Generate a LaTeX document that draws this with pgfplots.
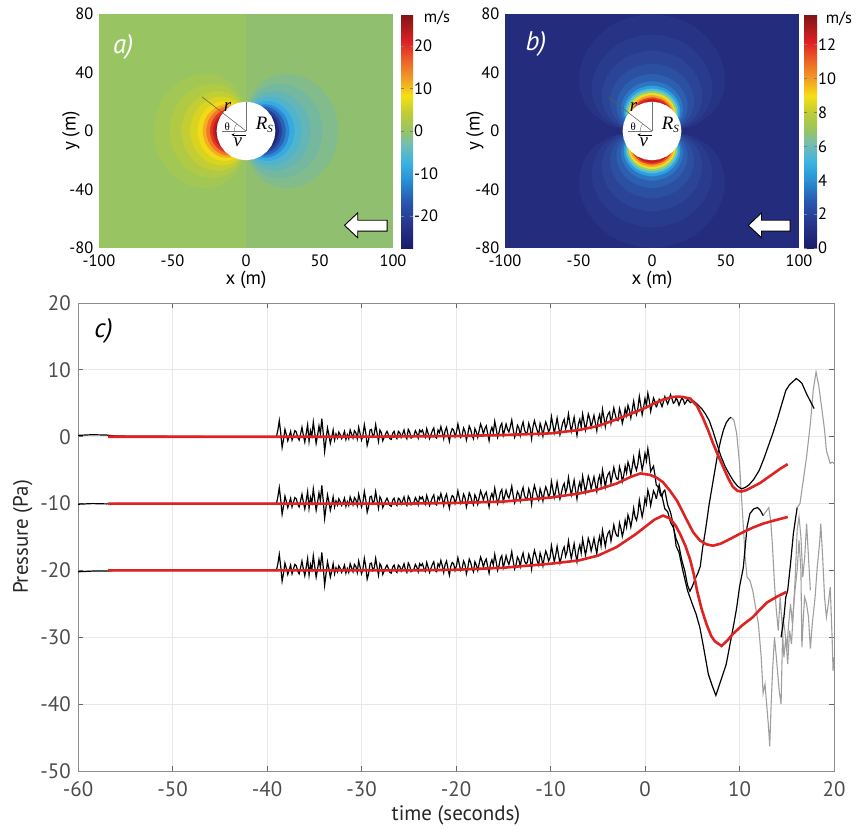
\documentclass[border=0pt]{standalone}
\usepackage{fontspec}
\setmainfont{PT Sans}
\newfontfamily\ser{Liberation Serif}
\usepackage{pgfplots}
\usepackage{pgfplotstable}
\pgfplotsset{compat=1.18}
\usetikzlibrary{arrows.meta}
\pgfplotsset{/pgf/number format/assume math mode=true}

\newcommand\fA{\fontsize{16.5}{18}\selectfont}
\newcommand\fL{\fontsize{19}{21}\selectfont}
\newcommand\fC{\fontsize{21}{24}\selectfont}

\definecolor{redc}{RGB}{222,35,35}
% panel a levels (west = positive, east = negative)
\definecolor{aW0}{RGB}{152,197,98}
\definecolor{aW1}{RGB}{163,199,85}
\definecolor{aW2}{RGB}{176,202,70}
\definecolor{aW3}{RGB}{194,206,52}
\definecolor{aW4}{RGB}{216,212,32}
\definecolor{aW5}{RGB}{243,218,22}
\definecolor{aW6}{RGB}{245,172,32}
\definecolor{aW7}{RGB}{240,122,36}
\definecolor{aW8}{RGB}{228,55,35}
\definecolor{aW9}{RGB}{200,28,30}
\definecolor{aW10}{RGB}{160,22,25}
\definecolor{aE0}{RGB}{145,191,112}
\definecolor{aE1}{RGB}{130,187,140}
\definecolor{aE2}{RGB}{117,184,160}
\definecolor{aE3}{RGB}{100,182,182}
\definecolor{aE4}{RGB}{80,180,205}
\definecolor{aE5}{RGB}{55,170,225}
\definecolor{aE6}{RGB}{45,135,210}
\definecolor{aE7}{RGB}{40,98,182}
\definecolor{aE8}{RGB}{38,65,152}
\definecolor{aE9}{RGB}{33,42,128}
\definecolor{aE10}{RGB}{28,30,108}
% panel b levels
\definecolor{b0}{RGB}{36,44,126}
\definecolor{b1}{RGB}{39,51,133}
\definecolor{b2}{RGB}{41,59,141}
\definecolor{b3}{RGB}{43,68,150}
\definecolor{b4}{RGB}{44,80,161}
\definecolor{b5}{RGB}{45,95,176}
\definecolor{b6}{RGB}{45,118,195}
\definecolor{b7}{RGB}{48,158,220}
\definecolor{b8}{RGB}{72,194,225}
\definecolor{b9}{RGB}{150,205,120}
\definecolor{b10}{RGB}{235,222,35}
\definecolor{b11}{RGB}{245,165,35}
\definecolor{b12}{RGB}{232,70,35}
\definecolor{b13}{RGB}{200,30,30}

\pgfplotsset{colormap={jetx}{rgb255(0pt)=(25,28,105); rgb255(10pt)=(38,52,140); rgb255(20pt)=(40,88,176);
 rgb255(30pt)=(40,150,216); rgb255(37pt)=(62,180,226); rgb255(45pt)=(120,190,172); rgb255(50pt)=(150,196,100);
 rgb255(58pt)=(192,205,50); rgb255(65pt)=(245,224,20); rgb255(72pt)=(242,160,35); rgb255(80pt)=(236,100,40);
 rgb255(88pt)=(225,32,35); rgb255(100pt)=(125,20,20)}}

% one contour lobe of the dipole field, unit size
\pgfplotstableread{
lx ly
0 0
-0.0120 0.2284
-0.0519 0.3695
-0.1317 0.4914
-0.2000 0.5495
-0.2747 0.5892
-0.3536 0.6124
-0.4344 0.6204
-0.5153 0.6141
-0.5946 0.5946
-0.6995 0.5465
-0.8059 0.4653
-0.8928 0.3607
-0.9493 0.2544
-0.9943 0.0870
-1 0
-0.9943 -0.0870
-0.9493 -0.2544
-0.8928 -0.3607
-0.8059 -0.4653
-0.6995 -0.5465
-0.5946 -0.5946
-0.5153 -0.6141
-0.4344 -0.6204
-0.3536 -0.6124
-0.2747 -0.5892
-0.2000 -0.5495
-0.1317 -0.4914
-0.0519 -0.3695
-0.0120 -0.2284
0 0
}\lobe

\pgfplotstableread{
cx cy
1 0
0.9659 0.2588
0.8660 0.5
0.7071 0.7071
0.5 0.8660
0.2588 0.9659
0 1
-0.2588 0.9659
-0.5 0.8660
-0.7071 0.7071
-0.8660 0.5
-0.9659 0.2588
-1 0
-0.9659 -0.2588
-0.8660 -0.5
-0.7071 -0.7071
-0.5 -0.8660
-0.2588 -0.9659
0 -1
0.2588 -0.9659
0.5 -0.8660
0.7071 -0.7071
0.8660 -0.5
0.9659 -0.2588
1 0
}\disk

% noise n shared by the three records, a b c = local level of each record
\pgfplotstableread{
t n a b c
-60.0 0 0.2 -10.1 -20.2
-58.5 0 0.3 -10.0 -20.1
-57.0 0 0.25 -10.05 -20.1
-56.0 0 0.1 -10.0 -20.0
-50.0 0 0.05 -10.0 -20.0
-45.0 0 0.0 -10.0 -20.0
-39.3 0 0.0 -10.0 -20.0
-39.0 0.0 0.0 -10.0 -20.0
-38.85 1.0 0.0 -10.0 -20.0
-38.7 2.4 0.0 -10.0 -20.0
-38.55 0.6 0.0 -10.0 -20.0
-38.4 -1.6 0.0 -10.0 -20.0
-38.25 -0.4 0.0 -10.0 -20.0
-38.1 1.1 0.0 -10.0 -20.0
-37.95 0.3 0.0 -10.0 -20.0
-37.8 -0.6 0.0 -10.0 -20.0
-37.65 0.1 0.0 -10.0 -20.0
-37.5 0.8 0.0 -10.0 -20.0
-37.35 -0.5 0.0 -10.0 -20.0
-37.2 0.2 0.0 -10.0 -20.0
-37.05 0.9 0.0 -10.0 -20.0
-36.9 0.7 0.0 -10.0 -20.0
-36.75 -0.1 0.0 -10.0 -20.0
-36.6 -0.5 0.0 -10.0 -20.0
-36.45 0.4 0.0 -10.0 -20.0
-36.3 1.4 0.0 -10.0 -20.0
-36.15 0.2 0.0 -10.0 -20.0
-36.0 -0.8 0.0 -10.0 -20.0
-35.85 0.5 0.0 -10.0 -20.0
-35.7 1.8 0.0 -10.0 -20.0
-35.55 -0.7 0.0 -10.0 -20.0
-35.4 0.9 0.0 -10.0 -20.0
-35.25 0.1 0.0 -10.0 -20.0
-35.1 2.2 0.0 -10.0 -20.0
-34.95 0.6 0.0 -10.0 -20.0
-34.8 -1.0 0.0 -10.0 -20.0
-34.65 0.2 0.0 -10.0 -20.0
-34.5 1.5 0.1 -9.9 -19.9
-34.35 0.3 0.1 -9.9 -19.9
-34.2 2.6 0.1 -9.9 -19.9
-34.05 0.4 0.1 -9.9 -19.9
-33.9 -2.3 0.1 -9.9 -19.9
-33.75 -0.6 0.1 -9.9 -19.9
-33.6 1.2 0.1 -9.9 -19.9
-33.45 0.2 0.1 -9.9 -19.9
-33.3 -1.1 0.1 -9.9 -19.9
-33.15 -0.2 0.1 -9.9 -19.9
-33.0 0.9 0.1 -9.9 -19.9
-32.85 -0.6 0.1 -9.9 -19.9
-32.7 0.3 0.1 -9.9 -19.9
-32.55 -0.3 0.1 -9.9 -19.9
-32.4 0.6 0.1 -9.9 -19.9
-32.25 0.2 0.1 -9.9 -19.9
-32.1 -0.4 0.1 -9.9 -19.9
-31.95 0.1 0.1 -9.9 -19.9
-31.8 0.7 0.1 -9.9 -19.9
-31.65 -0.5 0.1 -9.9 -19.9
-31.5 0.2 0.1 -9.9 -19.9
-31.35 -0.4 0.1 -9.9 -19.9
-31.2 0.9 0.1 -9.9 -19.9
-31.05 0.3 0.1 -9.9 -19.9
-30.9 -0.3 0.1 -9.9 -19.9
-30.75 0.8 0.1 -9.9 -19.9
-30.6 0.5 0.1 -9.9 -19.9
-30.45 -0.4 0.1 -9.9 -19.9
-30.3 1.3 0.1 -9.9 -19.9
-30.15 0.4 0.1 -9.9 -19.9
-30.0 -0.6 0.1 -9.9 -19.9
-29.85 0.1 0.1 -9.9 -19.9
-29.7 1.7 0.1 -9.9 -19.9
-29.55 0.5 0.1 -9.9 -19.9
-29.4 -1.4 0.1 -9.9 -19.9
-29.25 -0.6 0.1 -9.9 -19.9
-29.1 0.8 0.2 -9.8 -19.8
-28.95 0.9 0.2 -9.8 -19.8
-28.8 -0.2 0.2 -9.8 -19.8
-28.65 0.2 0.2 -9.8 -19.8
-28.5 1.6 0.2 -9.8 -19.8
-28.35 0.3 0.2 -9.8 -19.8
-28.2 -0.9 0.2 -9.8 -19.8
-28.05 0.8 0.2 -9.8 -19.8
-27.9 0.4 0.2 -9.8 -19.8
-27.75 -0.8 0.2 -9.8 -19.8
-27.6 -0.3 0.2 -9.8 -19.8
-27.45 0.2 0.2 -9.8 -19.8
-27.3 0.6 0.2 -9.8 -19.8
-27.15 0.1 0.2 -9.8 -19.8
-27.0 -0.5 0.2 -9.8 -19.8
-26.85 -0.6 0.2 -9.8 -19.8
-26.7 0.3 0.2 -9.8 -19.8
-26.55 0.6 0.2 -9.8 -19.8
-26.4 -0.2 0.2 -9.8 -19.8
-26.25 -0.5 0.2 -9.8 -19.8
-26.1 0.5 0.3 -9.7 -19.7
-25.95 0.3 0.3 -9.7 -19.7
-25.8 -0.4 0.3 -9.7 -19.7
-25.65 0.1 0.3 -9.7 -19.7
-25.5 0.7 0.3 -9.7 -19.7
-25.35 -0.2 0.3 -9.7 -19.7
-25.2 -0.6 0.3 -9.7 -19.7
-25.05 0.8 0.3 -9.7 -19.7
-24.9 0.4 0.3 -9.7 -19.7
-24.75 -0.5 0.3 -9.7 -19.7
-24.6 -0.3 0.3 -9.7 -19.7
-24.45 -0.1 0.3 -9.7 -19.7
-24.3 0.6 0.3 -9.7 -19.7
-24.15 0.2 0.3 -9.7 -19.7
-24.0 -0.5 0.3 -9.7 -19.7
-23.85 0.7 0.3 -9.7 -19.7
-23.7 0.3 0.4 -9.6 -19.6
-23.55 0.6 0.4 -9.6 -19.6
-23.4 -0.1 0.4 -9.6 -19.6
-23.25 -0.5 0.4 -9.6 -19.6
-23.1 0.8 0.4 -9.6 -19.6
-22.95 0.1 0.4 -9.6 -19.6
-22.8 -0.7 0.4 -9.6 -19.6
-22.65 -0.1 0.4 -9.6 -19.6
-22.5 0.5 0.4 -9.6 -19.6
-22.35 0.9 0.4 -9.6 -19.6
-22.2 -0.4 0.4 -9.6 -19.6
-22.05 -0.6 0.4 -9.6 -19.6
-21.9 0.6 0.4 -9.6 -19.6
-21.75 0.2 0.4 -9.6 -19.6
-21.6 1.1 0.4 -9.6 -19.6
-21.45 0.3 0.4 -9.6 -19.6
-21.3 -0.8 0.5 -9.5 -19.5
-21.15 0.4 0.5 -9.5 -19.5
-21.0 0.9 0.5 -9.5 -19.5
-20.85 -0.2 0.5 -9.5 -19.5
-20.7 -1.2 0.5 -9.5 -19.5
-20.55 0.1 0.5 -9.5 -19.5
-20.4 0.7 0.5 -9.5 -19.5
-20.25 0.5 0.5 -9.5 -19.5
-20.1 -0.5 0.5 -9.5 -19.5
-19.95 0.2 0.5 -9.5 -19.5
-19.8 1.4 0.5 -9.5 -19.5
-19.65 0.4 0.5 -9.5 -19.5
-19.5 -0.6 0.5 -9.4 -19.4
-19.35 -0.3 0.5 -9.4 -19.4
-19.2 0.8 0.5 -9.4 -19.4
-19.05 0.3 0.5 -9.4 -19.4
-18.9 -1.1 0.6 -9.4 -19.4
-18.75 -0.2 0.6 -9.4 -19.4
-18.6 1.0 0.6 -9.4 -19.3
-18.45 0.5 0.6 -9.4 -19.3
-18.3 -0.4 0.6 -9.3 -19.3
-18.15 -0.9 0.6 -9.3 -19.3
-18.0 0.6 0.6 -9.3 -19.3
-17.85 0.1 0.6 -9.3 -19.3
-17.7 -0.8 0.7 -9.3 -19.2
-17.55 0.2 0.7 -9.3 -19.2
-17.4 1.2 0.7 -9.3 -19.2
-17.25 0.6 0.7 -9.3 -19.2
-17.1 -0.3 0.7 -9.2 -19.2
-16.95 0.5 0.7 -9.2 -19.2
-16.8 0.9 0.7 -9.2 -19.2
-16.65 -0.2 0.7 -9.2 -19.2
-16.5 -1.3 0.7 -9.2 -19.1
-16.35 0.1 0.7 -9.2 -19.1
-16.2 0.7 0.7 -9.2 -19.1
-16.05 -0.1 0.7 -9.2 -19.1
-15.9 1.5 0.8 -9.2 -19.1
-15.75 0.4 0.8 -9.2 -19.1
-15.6 -0.9 0.8 -9.1 -19.1
-15.45 -0.2 0.8 -9.1 -19.1
-15.3 0.8 0.8 -9.1 -19.0
-15.15 1.2 0.8 -9.1 -19.0
-15.0 -0.6 0.8 -9.1 -19.0
-14.85 0.2 0.8 -9.1 -19.0
-14.7 1.1 0.8 -9.1 -18.9
-14.55 0.3 0.8 -9.1 -18.9
-14.4 -0.2 0.9 -9.0 -18.9
-14.25 0.6 0.9 -9.0 -18.9
-14.1 1.6 0.9 -9.0 -18.8
-13.95 0.2 0.9 -9.0 -18.8
-13.8 -1.0 0.9 -8.9 -18.8
-13.65 -0.4 0.9 -8.9 -18.8
-13.5 0.7 1.0 -8.9 -18.7
-13.35 0.3 1.0 -8.9 -18.7
-13.2 -0.8 1.0 -8.8 -18.6
-13.05 0.5 1.0 -8.8 -18.6
-12.9 1.2 1.0 -8.8 -18.6
-12.75 0.0 1.0 -8.8 -18.6
-12.6 -0.5 1.0 -8.8 -18.5
-12.45 -0.3 1.0 -8.8 -18.5
-12.3 0.9 1.1 -8.7 -18.5
-12.15 0.2 1.1 -8.7 -18.5
-12.0 -1.4 1.1 -8.7 -18.4
-11.85 0.4 1.1 -8.7 -18.4
-11.7 1.3 1.1 -8.6 -18.3
-11.55 0.5 1.1 -8.6 -18.3
-11.4 -0.3 1.2 -8.6 -18.3
-11.25 -0.9 1.2 -8.6 -18.3
-11.1 0.8 1.2 -8.6 -18.2
-10.95 0.1 1.2 -8.6 -18.2
-10.8 -1.1 1.2 -8.5 -18.2
-10.65 0.2 1.2 -8.5 -18.2
-10.5 1.0 1.2 -8.5 -18.1
-10.35 0.4 1.2 -8.5 -18.1
-10.2 -0.6 1.3 -8.4 -18.0
-10.05 -0.1 1.3 -8.4 -18.0
-9.9 1.7 1.3 -8.4 -18.0
-9.75 0.5 1.3 -8.4 -18.0
-9.6 -0.8 1.4 -8.3 -17.9
-9.45 0.2 1.4 -8.3 -17.9
-9.3 1.4 1.4 -8.2 -17.8
-9.15 0.1 1.4 -8.2 -17.8
-9.0 -1.2 1.5 -8.1 -17.7
-8.85 -0.3 1.5 -8.1 -17.7
-8.7 0.6 1.5 -8.1 -17.6
-8.55 1.1 1.5 -8.1 -17.6
-8.4 -0.4 1.6 -8.0 -17.5
-8.25 0.3 1.6 -8.0 -17.5
-8.1 1.8 1.6 -7.9 -17.4
-7.95 0.4 1.6 -7.9 -17.4
-7.8 -0.9 1.7 -7.8 -17.3
-7.65 0.2 1.7 -7.8 -17.3
-7.5 1.2 1.7 -7.7 -17.2
-7.35 -0.3 1.7 -7.7 -17.2
-7.2 -1.6 1.8 -7.7 -17.1
-7.05 0.1 1.8 -7.7 -17.1
-6.9 0.8 1.8 -7.6 -17.0
-6.75 -0.4 1.8 -7.6 -17.0
-6.6 1.5 1.9 -7.4 -16.8
-6.45 0.3 1.9 -7.4 -16.8
-6.3 -1.0 2.0 -7.3 -16.7
-6.15 0.1 2.0 -7.3 -16.7
-6.0 1.3 2.1 -7.2 -16.5
-5.85 0.6 2.1 -7.2 -16.5
-5.7 -0.7 2.1 -7.1 -16.4
-5.55 0.2 2.1 -7.1 -16.4
-5.4 1.0 2.2 -7.0 -16.2
-5.25 -0.2 2.2 -7.0 -16.2
-5.1 -1.4 2.3 -6.8 -16.1
-4.95 0.3 2.3 -6.8 -16.1
-4.8 0.9 2.4 -6.7 -15.8
-4.65 -0.5 2.4 -6.7 -15.8
-4.5 1.6 2.5 -6.6 -15.6
-4.35 0.4 2.5 -6.6 -15.6
-4.2 -1.1 2.6 -6.4 -15.3
-4.05 0.2 2.6 -6.4 -15.3
-3.9 0.7 2.7 -6.3 -15.1
-3.75 1.0 2.7 -6.3 -15.1
-3.6 -0.8 2.8 -6.1 -14.8
-3.45 0.3 2.8 -6.1 -14.8
-3.3 1.4 2.9 -6.0 -14.6
-3.15 0.4 2.9 -6.0 -14.6
-3.0 -0.5 3.0 -5.8 -14.3
-2.85 -0.6 3.0 -5.8 -14.3
-2.7 1.1 3.1 -5.6 -14.0
-2.55 0.3 3.1 -5.6 -14.0
-2.4 -1.3 3.3 -5.4 -13.6
-2.25 -0.4 3.3 -5.4 -13.6
-2.1 0.8 3.4 -5.2 -13.3
-1.95 -0.2 3.4 -5.2 -13.3
-1.8 1.2 3.5 -5.0 -12.9
-1.65 0.5 3.5 -5.0 -12.9
-1.5 -0.9 3.7 -4.8 -12.6
-1.35 0.3 3.7 -4.8 -12.6
-1.2 1.5 3.8 -4.6 -12.2
-1.05 0.2 3.8 -4.6 -12.2
-0.9 -0.6 3.9 -4.4 -11.9
-0.75 0.4 3.9 -4.4 -11.9
-0.6 1.9 4.1 -4.2 -11.4
-0.45 0.6 4.1 -4.2 -11.4
-0.3 -1.0 4.3 -4.0 -11.0
-0.15 0.1 4.3 -4.0 -11.0
0.0 1.3 4.4 -3.8 -10.5
0.15 0.2 4.45 -3.8 -10.25
0.3 2.0 4.5 -3.8 -10.0
0.45 0.9 4.55 -4.1 -9.75
0.6 -0.8 4.6 -4.4 -9.5
0.75 0.1 4.7 -4.9 -9.3
0.9 1.0 4.8 -5.4 -9.1
1.05 0.4 4.85 -6.1 -8.95
1.2 -0.5 4.9 -6.8 -8.8
}\noise

\newcommand\lobeW[2]{\addplot[fill=#2,draw=none] table[x expr=\thisrow{lx}*#1,y expr=\thisrow{ly}*#1]{\lobe};}
\newcommand\lobeE[2]{\addplot[fill=#2,draw=none] table[x expr=\thisrow{lx}*(-#1),y expr=\thisrow{ly}*#1]{\lobe};}
\newcommand\lobeN[2]{\addplot[fill=#2,draw=none] table[x expr=\thisrow{ly}*#1,y expr=\thisrow{lx}*(-#1)]{\lobe};}
\newcommand\lobeS[2]{\addplot[fill=#2,draw=none] table[x expr=\thisrow{ly}*#1,y expr=\thisrow{lx}*#1]{\lobe};}

\newcommand\disknotes{%
 \addplot[fill=white,draw=none] table[x expr=\thisrow{cx}*20,y expr=\thisrow{cy}*20]{\disk};
 \addplot[draw=black!55,line width=0.5bp] coordinates {(0,0)(0,20)};
 \addplot[draw=black!55,line width=0.5bp] coordinates {(0,0)(-16.5,0)};
 \addplot[draw=black!65,line width=0.5bp] coordinates {(0,0)(-30,23.4)};
 \addplot[draw=black!55,line width=0.4bp] coordinates {(-8,0)(-7.88,1.39)(-7.52,2.74)(-6.93,4)(-6.3,4.93)};
 \addplot[draw=black,line width=0.6bp,-{Stealth[length=3.5bp,width=3bp]}] coordinates {(0,-2.6)(-10,-2.6)};
 \node[font=\ser\itshape\fontsize{19}{19}\selectfont] at (axis cs:12.5,4.5) {R\raisebox{-0.35ex}{\fontsize{11}{11}\selectfont S}};
 \node[font=\ser\itshape\fontsize{19}{19}\selectfont] at (axis cs:-12.5,16.5) {r};
 \node[font=\ser\fontsize{11}{11}\selectfont] at (axis cs:-12.8,3.2) {θ};
 \node[font=\ser\itshape\fontsize{19}{19}\selectfont] at (axis cs:-5.5,-8) {v};
}

\begin{document}
\begin{tikzpicture}
\useasboundingbox (0,0) rectangle (864bp,829bp);

% ---------- a) ----------
\begin{axis}[at={(99bp,581bp)},anchor=south west,scale only axis,width=294bp,height=234bp,
 xmin=-100,xmax=100,ymin=-80,ymax=80,xtick={-100,-50,0,50,100},ytick={-80,-40,0,40,80},
 axis line style={draw=none},major tick length=0pt,ticklabel style={font=\fA,inner sep=1bp},
 xticklabel style={yshift=-6bp},yticklabel style={xshift=-4.5bp},
 xlabel={x (m)},ylabel={y (m)},label style={font=\fL,inner sep=1bp},
 xlabel style={at={(axis description cs:0.5,-0.138)},anchor=center},
 ylabel style={at={(axis description cs:-0.095,0.5)},anchor=center},
 colormap name=jetx,colorbar,point meta min=-27.5,point meta max=27.5,
 colorbar shift/.style={xshift=8bp},
 colorbar style={scale only axis,width=12bp,height=234bp,at={(parent axis.north east)},anchor=north west,
  ytick={-20,-10,0,10,20},yticklabel style={font=\fA},major tick length=3bp,axis line style={draw=none}}]
\addplot[fill=aW0,draw=none] coordinates {(-100,-80)(0,-80)(0,80)(-100,80)};
\addplot[fill=aE0,draw=none] coordinates {(0,-80)(100,-80)(100,80)(0,80)};
\lobeW{63}{aW1}\lobeW{52}{aW2}\lobeW{44}{aW3}\lobeW{38}{aW4}\lobeW{33}{aW5}
\lobeW{29.5}{aW6}\lobeW{27}{aW7}\lobeW{24.5}{aW8}\lobeW{22.5}{aW9}\lobeW{21}{aW10}
\lobeE{63}{aE1}\lobeE{52}{aE2}\lobeE{44}{aE3}\lobeE{38}{aE4}\lobeE{33}{aE5}
\lobeE{29.5}{aE6}\lobeE{27}{aE7}\lobeE{24.5}{aE8}\lobeE{22.5}{aE9}\lobeE{21}{aE10}
\disknotes
\addplot[fill=white,draw=black,line width=0.9bp] coordinates {(67,-64.5)(76,-56)(76,-61)(96,-61)(96,-68.5)(76,-68.5)(76,-73)} -- cycle;
\node[font=\itshape\fontsize{27}{27}\selectfont,text=white] at (axis cs:-83.5,57.5) {a)};
\end{axis}

% ---------- b) ----------
\begin{axis}[at={(505bp,581bp)},anchor=south west,scale only axis,width=294bp,height=234bp,
 xmin=-100,xmax=100,ymin=-80,ymax=80,xtick={-100,-50,0,50,100},ytick={-80,-40,0,40,80},
 axis line style={draw=none},major tick length=0pt,ticklabel style={font=\fA,inner sep=1bp},
 xticklabel style={yshift=-6bp},yticklabel style={xshift=-4.5bp},
 xlabel={x (m)},ylabel={y (m)},label style={font=\fL,inner sep=1bp},
 xlabel style={at={(axis description cs:0.5,-0.138)},anchor=center},
 ylabel style={at={(axis description cs:-0.102,0.5)},anchor=center},
 colormap name=jetx,colorbar,point meta min=0,point meta max=13.8,
 colorbar shift/.style={xshift=5bp},
 colorbar style={scale only axis,width=13bp,height=234bp,at={(parent axis.north east)},anchor=north west,
  ytick={0,2,4,6,8,10,12},yticklabel style={font=\fA},major tick length=3bp,axis line style={draw=none}}]
\addplot[fill=b0,draw=none] coordinates {(-100,-80)(100,-80)(100,80)(-100,80)};
\lobeN{80}{b1}\lobeS{80}{b1}\lobeN{66}{b2}\lobeS{66}{b2}\lobeN{55}{b3}\lobeS{55}{b3}
\lobeN{46}{b4}\lobeS{46}{b4}\lobeN{39}{b5}\lobeS{39}{b5}\lobeN{34}{b6}\lobeS{34}{b6}
\lobeN{31}{b7}\lobeS{31}{b7}\lobeN{29}{b8}\lobeS{29}{b8}\lobeN{27.5}{b9}\lobeS{27.5}{b9}
\lobeN{26}{b10}\lobeS{26}{b10}\lobeN{24.5}{b11}\lobeS{24.5}{b11}\lobeN{23}{b12}\lobeS{23}{b12}
\lobeN{21.8}{b13}\lobeS{21.8}{b13}
\disknotes
\addplot[fill=white,draw=black,line width=0.9bp] coordinates {(65.5,-64.5)(74.5,-56)(74.5,-61)(94,-61)(94,-68.5)(74.5,-68.5)(74.5,-73)} -- cycle;
\node[font=\itshape\fontsize{27}{27}\selectfont,text=white] at (axis cs:-79,59.5) {b)};
\end{axis}

\node[font=\fA] at (437bp,811bp) {m/s};
\node[font=\fA] at (839bp,810bp) {m/s};

% ---------- c) ----------
\begin{axis}[at={(78bp,58bp)},anchor=south west,scale only axis,width=756bp,height=468bp,
 xmin=-60,xmax=20,ymin=-50,ymax=20,xtick={-60,-50,...,20},ytick={-50,-40,...,20},
 grid=major,grid style={black!9,line width=0.8bp},axis line style={draw=black!45,line width=0.8bp},
 tick style={draw=black!60,line width=0.8bp},tick align=inside,major tick length=5bp,
 ticklabel style={font=\fC,text=black!70,inner sep=1.5bp},
 xticklabel style={yshift=-9bp},yticklabel style={xshift=-5.5bp},
 xlabel={time (seconds)},ylabel={Pressure (Pa)},label style={font=\fC,text=black!85},
 xlabel style={at={(axis description cs:0.5,-0.094)},anchor=center},
 ylabel style={at={(axis description cs:-0.073,0.5)},anchor=center}]
% grey parts of the records
\addplot[draw=black!38,line width=1.1bp] coordinates {(9.1,2.9)(9.4,2.5)(9.7,0.5)(10.0,-4)(10.3,-11)(10.6,-18)(10.8,-21)(11.1,-21.5)(11.4,-23)(11.7,-25.5)(12.0,-28)(12.3,-33)(12.5,-38.4)(12.7,-37)(12.9,-40.5)(13.05,-43)(13.2,-46.3)(13.35,-40)(13.5,-35)(13.7,-30)(13.9,-33)(14.2,-38)(14.4,-40)(14.6,-27)(14.8,-29)(15.0,-32)(15.2,-28)(15.4,-25)(15.6,-28)(15.8,-24)(16.1,-20)(16.3,-15.5)(16.5,-20)(16.6,-31.5)(16.8,-26)(16.9,-24)(17.1,-25)(17.3,-27)(17.5,-31.7)(17.7,-28)(18.0,-24)(18.2,-20)(18.5,-15.5)(18.6,-13)(18.8,-18)(19.0,-24)(19.2,-27)(19.4,-25)(19.6,-22.5)(19.8,-30)(19.9,-35)(20.0,-33)};
\addplot[draw=black!38,line width=1.1bp] coordinates {(12.5,-11.8)(12.8,-11.2)(13.1,-10.6)(13.3,-12.5)(13.5,-16.6)(13.7,-22)(13.9,-26)(14.1,-29)(14.3,-24)(14.5,-28)(14.7,-33)(14.9,-30)(15.1,-34)(15.3,-29)(15.5,-31)(15.7,-26)(15.9,-21)(16.1,-14)(16.3,-12)(16.5,-15)(16.7,-21)(16.9,-18)(17.1,-13)(17.3,-18)(17.5,-23)};
\addplot[draw=black!38,line width=1.1bp] coordinates {(16.1,-10.6)(16.4,-10)(16.7,-7)(17.1,-3)(17.5,2)(17.8,6.9)(18.1,9.7)(18.4,7.5)(18.7,4.3)(19.0,1)(19.2,-2.1)(19.6,-4)(19.8,-3.8)(20,-4)};
% black records
\addplot[black,line width=1.2bp] table[x=t,y expr=\thisrow{n}+\thisrow{a}]{\noise};
\addplot[black,line width=1.2bp] table[x=t,y expr=\thisrow{n}+\thisrow{b}]{\noise};
\addplot[black,line width=1.2bp] table[x=t,y expr=\thisrow{n}+\thisrow{c}]{\noise};
\addplot[black,line width=1.2bp] coordinates {(1.2,4.4)(1.35,5.0)(1.5,5.6)(1.65,5.1)(1.8,4.5)(1.95,5.2)(2.1,6.0)(2.25,5.4)(2.4,4.9)(2.55,5.5)(2.7,6.3)(2.85,5.7)(3.0,5.0)(3.15,5.2)(3.3,5.8)(3.45,5.4)(3.6,4.7)(3.75,5.3)(3.9,5.8)(4.05,5.5)(4.2,4.9)(4.35,5.2)(4.5,5.6)(4.8,5.1)(5.1,5.4)(5.5,4.9)(6.0,4.2)(6.4,3.4)(6.8,2.4)(7.2,0.8)(7.6,-1.0)(8.0,-2.8)(8.5,-4.5)(9.0,-5.8)(9.4,-6.7)(9.8,-7.4)(10.2,-7.8)(10.6,-7.6)(11.0,-7.2)(11.5,-6.4)(12.1,-5.0)(12.6,-3.2)(13.0,-1.6)(13.5,0.4)(14.0,2.6)(14.5,5.0)(14.9,6.9)(15.3,7.8)(15.7,8.3)(16.0,8.7)(16.3,8.4)(16.6,8.0)(17.1,6.4)(17.5,5.3)(17.9,4.2)};
\addplot[black,line width=1.2bp] coordinates {(1.2,-7.3)(1.35,-7.4)(1.5,-8.0)(1.65,-8.8)(1.8,-8.9)(2.1,-10.8)(2.4,-11.2)(2.7,-12.8)(3.0,-13.6)(3.3,-15.3)(3.6,-16.4)(3.9,-18.5)(4.2,-20.0)(4.5,-22.2)(4.75,-23.1)(5.0,-22.4)(5.3,-21.3)(5.6,-20.4)(5.85,-19.4)(6.1,-16.6)(6.4,-14)(6.8,-10)(7.1,-7.5)(7.4,-5)(7.7,-2.5)(8.0,-0.6)(8.3,1)(8.6,2.1)(8.9,2.7)(9.1,2.9)};
\addplot[black,line width=1.2bp] coordinates {(1.2,-9.3)(1.35,-8.2)(1.5,-7.2)(1.65,-8.3)(1.8,-8.9)(1.95,-8.2)(2.1,-8.0)(2.4,-10.2)(2.7,-11.3)(3.0,-13.2)(3.3,-16.4)(3.6,-17.3)(4.0,-20)(4.5,-23)(5.0,-25)(5.4,-26.5)(5.8,-28.5)(6.2,-31.5)(6.7,-35.5)(7.1,-37.2)(7.5,-38.7)(7.9,-37)(8.3,-35.3)(8.6,-34)(9.0,-31)(9.4,-28)(9.7,-25.6)(10.0,-22.5)(10.4,-19.6)(10.8,-13.5)(11.1,-11.5)(11.5,-10.8)(11.9,-10.6)(12.2,-11)(12.5,-11.8)};
\addplot[black,line width=1.2bp] coordinates {(14.4,-30)(14.7,-27)(14.9,-24)(15.1,-23)(15.4,-19)(15.7,-14.5)(16.1,-10.6)};
% model curves
\addplot[redc,line width=2.6bp] coordinates {(-56.8,0)(-40,0)(-30,0)(-25,0.05)(-20,0.1)(-15,0.25)(-10,0.5)(-7,1.0)(-5,1.6)(-3,2.6)(-1,3.7)(0,4.3)(1,5.0)(2,5.6)(3,5.95)(3.5,6.0)(4,5.95)(4.8,5.7)(5.5,4.6)(6.1,2.9)(6.7,0.9)(7.2,-1.0)(7.8,-3.0)(8.3,-4.6)(8.8,-6.2)(9.3,-7.5)(9.8,-8.1)(10.2,-8.2)(10.7,-8.0)(11.4,-7.5)(12.2,-6.9)(13.0,-6.1)(13.6,-5.5)(14.3,-4.8)(15.1,-4.1)};
\addplot[redc,line width=2.6bp] coordinates {(-56.8,-10)(-30,-10)(-25,-10)(-20,-9.9)(-15,-9.7)(-10,-9.1)(-7,-8.5)(-5,-7.9)(-3,-7.0)(-1.5,-6.0)(-0.5,-5.5)(0.5,-5.7)(1.2,-6.1)(1.9,-6.8)(2.6,-8.0)(3.4,-9.6)(4.4,-12.4)(5.1,-14.3)(5.8,-15.5)(6.5,-16.1)(7.2,-16.3)(8.0,-16.0)(9.0,-15.3)(10.2,-14.4)(11.4,-13.6)(12.5,-13.0)(13.5,-12.6)(15.1,-12.0)};
\addplot[redc,line width=2.6bp] coordinates {(-56.8,-20)(-30,-20)(-25,-20)(-20,-19.9)(-15,-19.6)(-10,-19.0)(-7,-18.5)(-5,-17.8)(-3,-16.5)(-1,-14.6)(0,-13.5)(1,-12.4)(1.9,-11.8)(2.6,-12.2)(3.2,-13.2)(3.7,-14.5)(4.3,-16.4)(4.8,-18.5)(5.2,-20.8)(5.5,-23)(6.0,-25.8)(6.5,-28)(7.0,-29.8)(7.4,-30.6)(8.1,-31.3)(8.7,-30.5)(9.3,-29.5)(10.3,-28.2)(11.4,-27.0)(12.2,-25.8)(12.9,-24.8)(14.0,-23.9)(15.0,-23.2)};
\node[font=\itshape\fontsize{27}{27}\selectfont] at (axis cs:-57.3,15.8) {c)};
\end{axis}
\end{tikzpicture}
\end{document}
